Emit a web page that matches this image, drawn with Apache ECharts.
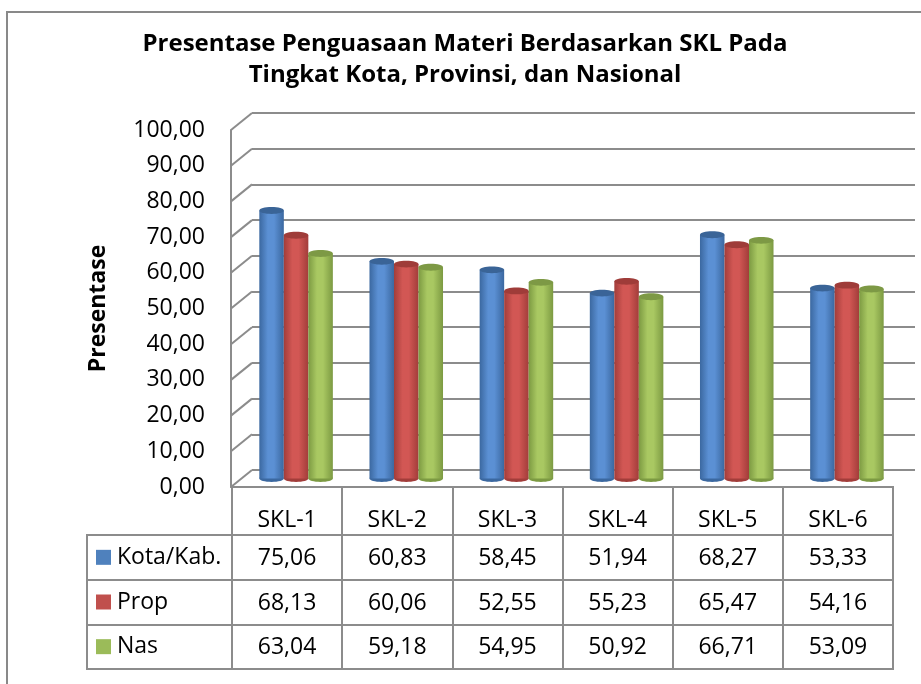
<!DOCTYPE html>
<html>
<head>
<meta charset="utf-8">
<script src="https://cdn.jsdelivr.net/npm/echarts@6/dist/echarts.min.js"></script>
<style>html,body{margin:0;padding:0;background:#fff}#c{width:921px;height:684px}</style>
</head>
<body>
<div id="c"></div>
<script>
const categories = ['SKL-1', 'SKL-2', 'SKL-3', 'SKL-4', 'SKL-5', 'SKL-6'];
const seriesNames = ['Kota/Kab.', 'Prop', 'Nas'];
const kota = [75.06, 60.83, 58.45, 51.94, 68.27, 53.33];
const prop = [68.13, 60.06, 52.55, 55.23, 65.47, 54.16];
const nas  = [63.04, 59.18, 54.95, 50.92, 66.71, 53.09];
const yTicks = [0, 10, 20, 30, 40, 50, 60, 70, 80, 90, 100];
const titleText = 'Presentase Penguasaan Materi Berdasarkan SKL Pada\nTingkat Kota, Provinsi, dan Nasional';
const yAxisTitle = 'Presentase';

const allSeries = [kota, prop, nas];
const colors = [
  {dark: '#3b68a0', light: '#5b90d4', top: '#3a6497', key: '#4f81bd'},
  {dark: '#a23d3a', light: '#d25754', top: '#9f3c39', key: '#c0504d'},
  {dark: '#7c9a42', light: '#a9c862', top: '#7d9945', key: '#9bbb59'}
];
const fmt = v => v.toFixed(2).replace('.', ',');
const FONT = '"Open Sans", sans-serif';
const GRAY = '#8c8c8c';

const chart = echarts.init(document.getElementById('c'), null, {renderer: 'canvas'});

function cylinderRender(si) {
  return function (params, api) {
    const band = api.size([1, 0])[0];
    const w = band * 0.2225;
    const top = api.coord([api.value(0), api.value(1)]);
    const base = api.coord([api.value(0), 0]);
    const x0 = top[0] - 1.5 * w + si * w;
    const cx = x0 + w / 2;
    const ry = w * 0.14;
    const c = colors[si];
    const grad = new echarts.graphic.LinearGradient(0, 0, 1, 0, [
      {offset: 0, color: c.dark},
      {offset: 0.35, color: c.light},
      {offset: 0.6, color: c.light},
      {offset: 1, color: c.dark}
    ]);
    return {
      type: 'group',
      children: [
        {type: 'ellipse', shape: {cx: cx, cy: base[1], rx: w / 2, ry: ry}, style: {fill: c.dark}},
        {type: 'rect', shape: {x: x0, y: top[1], width: w, height: base[1] - top[1]}, style: {fill: grad}},
        {type: 'ellipse', shape: {cx: cx, cy: top[1], rx: w / 2, ry: ry}, style: {fill: c.top}}
      ]
    };
  };
}

const cellData = [];
allSeries.forEach((arr, r) => arr.forEach((v, i) => cellData.push([i, r, fmt(v)])));

const option = {
  animation: false,
  backgroundColor: '#fff',
  title: {
    text: titleText,
    left: 460,
    top: 24,
    textAlign: 'center',
    textStyle: {fontFamily: FONT, fontSize: 24, fontWeight: 'bold', color: '#000', lineHeight: 31}
  },
  graphic: [
    {type: 'rect', shape: {x: 7, y: 12, width: 1000, height: 800}, style: {fill: 'none', stroke: '#898989', lineWidth: 2}, z: 100}
  ],
  grid: [
    {left: 252, right: 6, top: 113, bottom: 214},      // back wall
    {left: 231, right: 28, top: 130, bottom: 197},     // front axis
    {left: 241, right: 19, top: 121.5, bottom: 205.5}, // bars (mid depth)
    {left: 232, right: 28, top: 487, height: 48, show: true, borderColor: GRAY, borderWidth: 2}, // header row
    {left: 232, right: 28, top: 535, height: 134, show: true, borderColor: GRAY, borderWidth: 2}, // body
    {left: 87, width: 145, top: 535, height: 134, show: true, borderColor: GRAY, borderWidth: 2}  // legend column
  ],
  xAxis: [
    {gridIndex: 0, type: 'value', min: 0, max: 1, show: false},
    {gridIndex: 1, type: 'category', data: categories, axisLine: {show: true, lineStyle: {color: GRAY, width: 2}}, axisTick: {show: false}, axisLabel: {show: false}},
    {gridIndex: 2, type: 'category', data: categories, show: false},
    {gridIndex: 3, type: 'category', data: categories, axisLine: {show: false}, axisTick: {show: false}, axisLabel: {show: false},
      splitLine: {show: true, interval: 0, lineStyle: {color: GRAY, width: 2}}},
    {gridIndex: 4, type: 'category', data: categories, axisLine: {show: false}, axisTick: {show: false}, axisLabel: {show: false},
      splitLine: {show: true, interval: 0, lineStyle: {color: GRAY, width: 2}}},
    {gridIndex: 5, type: 'value', min: 0, max: 1, show: false}
  ],
  yAxis: [
    {gridIndex: 0, type: 'value', min: 0, max: 100, interval: 10, axisLabel: {show: false}, axisLine: {show: false}, axisTick: {show: false},
      splitLine: {show: true, lineStyle: {color: GRAY, width: 2}}},
    {gridIndex: 1, type: 'value', min: 0, max: 100, interval: 10,
      name: yAxisTitle, nameLocation: 'middle', nameGap: 121, nameRotate: 90,
      nameTextStyle: {fontFamily: FONT, fontSize: 23, fontWeight: 'bold', color: '#000'},
      axisLine: {show: true, lineStyle: {color: GRAY, width: 2}}, axisTick: {show: false}, splitLine: {show: false},
      axisLabel: {formatter: fmt, fontFamily: FONT, fontSize: 23, color: '#000', margin: 26}},
    {gridIndex: 2, type: 'value', min: 0, max: 100, show: false},
    {gridIndex: 3, type: 'value', min: 0, max: 1, show: false},
    {gridIndex: 4, type: 'category', data: seriesNames, inverse: true, axisLine: {show: false}, axisTick: {show: false}, axisLabel: {show: false},
      splitLine: {show: true, interval: 0, lineStyle: {color: GRAY, width: 2}}},
    {gridIndex: 5, type: 'category', data: seriesNames, inverse: true, axisLine: {show: false}, axisTick: {show: false},
      splitLine: {show: true, interval: 0, lineStyle: {color: GRAY, width: 2}},
      axisLabel: {inside: true, margin: 9, fontFamily: FONT, fontSize: 23, color: '#000',
        formatter: (v, i) => '{k' + i + '|} ' + v,
        rich: {
          k0: {width: 15, height: 15, backgroundColor: colors[0].key},
          k1: {width: 15, height: 15, backgroundColor: colors[1].key},
          k2: {width: 15, height: 15, backgroundColor: colors[2].key}
        }}}
  ],
  series: [
    {
      type: 'custom', xAxisIndex: 0, yAxisIndex: 0, silent: true,
      data: yTicks.map(v => [0, v]),
      renderItem: (params, api) => {
        const p = api.coord([0, api.value(1)]);
        return {type: 'line', shape: {x1: p[0] - 21, y1: p[1] + 17, x2: p[0], y2: p[1]}, style: {stroke: GRAY, lineWidth: 2}};
      }
    },
    ...allSeries.map((arr, si) => ({
      type: 'custom', name: seriesNames[si], xAxisIndex: 2, yAxisIndex: 2,
      data: arr.map((v, i) => [i, v]),
      renderItem: cylinderRender(si)
    })),
    {
      type: 'custom', xAxisIndex: 3, yAxisIndex: 3, silent: true,
      data: categories.map((c, i) => [i, 0.31, c]),
      renderItem: (params, api) => {
        const p = api.coord([api.value(0), api.value(1)]);
        return {type: 'text', x: p[0], y: p[1], style: {text: categories[params.dataIndex], fontFamily: FONT, fontSize: 23, fill: '#000', align: 'center', verticalAlign: 'middle'}};
      }
    },
    {
      type: 'custom', xAxisIndex: 4, yAxisIndex: 4, silent: true,
      data: cellData,
      renderItem: (params, api) => {
        const d = cellData[params.dataIndex];
        const p = api.coord([d[0], d[1]]);
        return {type: 'text', x: p[0], y: p[1] + 1, style: {text: d[2], fontFamily: FONT, fontSize: 23, fill: '#000', align: 'center', verticalAlign: 'middle'}};
      }
    }
  ]
};
chart.setOption(option);
</script>
</body>
</html>
